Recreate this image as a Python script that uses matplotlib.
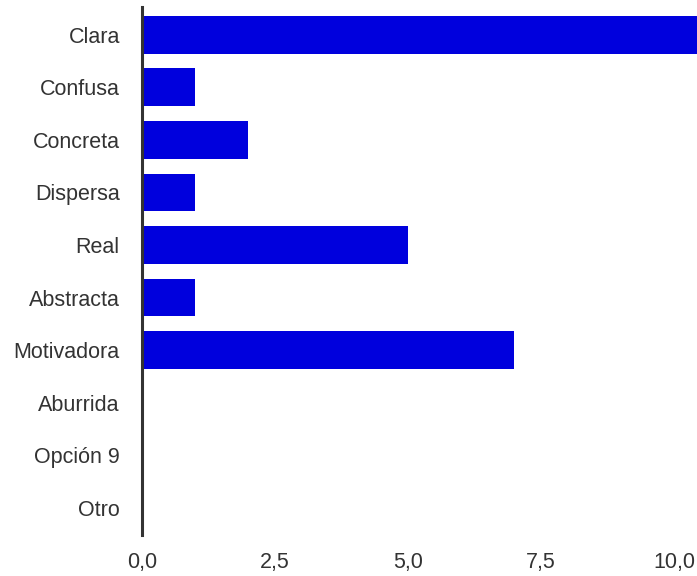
import matplotlib
matplotlib.use("Agg")
import matplotlib.pyplot as plt
from matplotlib.ticker import FuncFormatter

categories = ["Clara", "Confusa", "Concreta", "Dispersa", "Real", "Abstracta",
              "Motivadora", "Aburrida", "Opción 9", "Otro"]
values = [11, 1, 2, 1, 5, 1, 7, 0, 0, 0]
xticks = [0, 2.5, 5, 7.5, 10]

plt.rcParams['font.family'] = ['Liberation Sans', 'DejaVu Sans']

fig = plt.figure(figsize=(6.97, 5.76), dpi=100)
ax = fig.add_axes([142/697, 1 - 535/576, (697-142)/697, (535-7)/576])

pos = list(range(len(categories)))
ax.barh(pos, values, height=0.72, color="#0000DD")
ax.set_yticks(pos)
ax.set_yticklabels(categories)
ax.set_ylim(9.52, -0.53)
ax.set_xlim(0, 10.43)
ax.set_xticks(xticks)
ax.xaxis.set_major_formatter(FuncFormatter(lambda v, p: f"{v:.1f}".replace(".", ",")))

for s in ["top", "right", "bottom"]:
    ax.spines[s].set_visible(False)
ax.spines["left"].set_color("#333333")
ax.spines["left"].set_linewidth(2.2)
ax.tick_params(axis="both", length=0, labelsize=15.5, colors="#333333")
ax.tick_params(axis="x", pad=12)
ax.tick_params(axis="y", pad=16)

fig.savefig("out.png", dpi=100)
